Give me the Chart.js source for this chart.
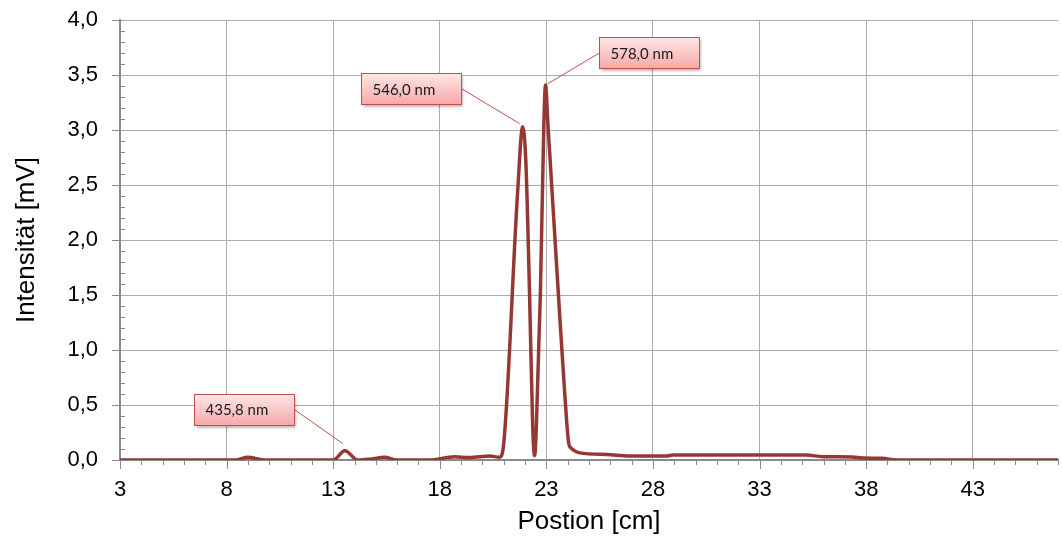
<!DOCTYPE html>
<html>
<head>
<meta charset="utf-8">
<script src="https://cdn.jsdelivr.net/npm/chart.js@4/dist/chart.umd.min.js"></script>
<style>
  html, body { margin: 0; padding: 0; background: #fff; }
  #wrap { width: 1062px; height: 537px; }
</style>
</head>
<body>
<div id="wrap"><canvas id="spectrum" width="1062" height="537"></canvas></div>
<script>
const positions = [3, 8.4, 9.0, 9.8, 13.0, 13.55, 14.15, 14.8, 15.4, 16.0, 17.5, 18.7, 19.4, 20.35, 20.8,
    21.0, 21.65, 21.89, 22.04, 22.21, 22.36, 22.45, 22.53, 22.72, 22.88, 22.96, 23.08, 23.37, 23.56,
    23.86, 24.05, 24.15, 24.57, 25.83, 26.9, 28.64, 28.93, 35.2, 35.96, 37.36, 37.83, 38.77, 39.43, 47];
const intensities = [0, 0, 0.025, 0, 0, 0.085, 0, 0.01, 0.025, 0, 0, 0.03, 0.022, 0.036, 0.025,
    0.15, 2.43, 3.03, 2.7, 1.52, 0.3, 0.04, 0.3, 1.52, 3.03, 3.41, 3.03, 2.12, 1.52,
    0.61, 0.15, 0.11, 0.065, 0.05, 0.036, 0.036, 0.045, 0.045, 0.03, 0.028, 0.018, 0.015, 0, 0];

const xTickValues = [3, 8, 13, 18, 23, 28, 33, 38, 43];
const peakPositions = [13.55, 21.89, 22.96];
const peakLabels = ["435,8 nm", "546,0 nm", "578,0 nm"];

// Beschriftungskästen: Versatz zum Peak in Pixeln
const calloutOffsets = [
    { box: [-101, -41], tip: [-2, -7] },
    { box: [-112, -38], tip: [-3, -3] },
    { box: [103, -32], tip: [2, -1] }
];

const points = positions.map((x, i) => ({ x: x, y: intensities[i] }));
const axisFont = "'Liberation Sans', Arial, sans-serif";

// kleine Teilstriche an den Achsen
const minorTicks = {
    id: "minorTicks",
    afterDraw(chart) {
        const { ctx, scales: { x, y }, chartArea } = chart;
        ctx.save();
        ctx.strokeStyle = "#8a8a8a";
        ctx.lineWidth = 1;
        for (let v = 3; v <= 47; v++) {
            const px = Math.round(x.getPixelForValue(v)) + 0.5;
            const len = xTickValues.includes(v) ? 9 : 5;
            ctx.beginPath();
            ctx.moveTo(px, chartArea.bottom);
            ctx.lineTo(px, chartArea.bottom + len);
            ctx.stroke();
        }
        for (let k = 0; k <= 40; k++) {
            const py = Math.round(y.getPixelForValue(k / 10)) + 0.5;
            ctx.beginPath();
            if (k % 5 === 0) {
                ctx.moveTo(chartArea.left - 8, py);
                ctx.lineTo(chartArea.left, py);
            } else {
                ctx.moveTo(chartArea.left, py);
                ctx.lineTo(chartArea.left + 5, py);
            }
            ctx.stroke();
        }
        ctx.restore();
    }
};

const callouts = {
    id: "callouts",
    afterDatasetsDraw(chart) {
        const { ctx, scales: { x, y } } = chart;
        const w = 100, h = 31;
        peakPositions.forEach((pos, n) => {
            const i = positions.indexOf(pos);
            const ax = x.getPixelForValue(positions[i]);
            const ay = y.getPixelForValue(intensities[i]);
            const off = calloutOffsets[n];
            const cx = ax + off.box[0], cy = ay + off.box[1];
            const left = Math.round(cx - w / 2) + 0.5, top = Math.round(cy - h / 2) + 0.5;
            const startX = off.box[0] < 0 ? left + w : left;

            ctx.save();
            ctx.strokeStyle = "#c0504d";
            ctx.lineWidth = 1;
            ctx.beginPath();
            ctx.moveTo(startX, cy);
            ctx.lineTo(ax + off.tip[0], ay + off.tip[1]);
            ctx.stroke();

            const grad = ctx.createLinearGradient(0, top, 0, top + h);
            grad.addColorStop(0, "#ffe6e6");
            grad.addColorStop(1, "#f5a9a8");
            ctx.shadowColor = "rgba(0,0,0,0.35)";
            ctx.shadowBlur = 3;
            ctx.shadowOffsetX = 1;
            ctx.shadowOffsetY = 2;
            ctx.fillStyle = grad;
            ctx.fillRect(left, top, w, h);
            ctx.shadowColor = "transparent";
            ctx.strokeStyle = "#c0504d";
            ctx.strokeRect(left, top, w, h);

            ctx.fillStyle = "#1a1a1a";
            ctx.font = "15px Lato, 'Open Sans', sans-serif";
            ctx.textBaseline = "middle";
            ctx.textAlign = "left";
            ctx.fillText(peakLabels[n], left + 11, cy + 1);
            ctx.restore();
        });
    }
};

new Chart(document.getElementById("spectrum"), {
    type: "line",
    data: {
        datasets: [{
            data: points,
            borderColor: "#953735",
            borderWidth: 3.5,
            pointRadius: 0,
            fill: false,
            cubicInterpolationMode: "monotone"
        }]
    },
    options: {
        responsive: false,
        animation: false,
        layout: { padding: { top: 20, right: 4, left: 0, bottom: 0 } },
        plugins: { legend: { display: false }, tooltip: { enabled: false } },
        scales: {
            x: {
                type: "linear",
                min: 3,
                max: 47,
                afterBuildTicks: (s) => { s.ticks = xTickValues.map(v => ({ value: v })); },
                afterFit: (s) => { s.height = 77; s.paddingLeft = 0; s.paddingRight = 0; },
                grid: { color: "#ababab", lineWidth: 1, drawTicks: false },
                border: { color: "#8a8a8a", width: 2 },
                ticks: {
                    autoSkip: false,
                    maxRotation: 0,
                    padding: 17,
                    color: "#000",
                    font: { family: axisFont, size: 22 }
                },
                title: {
                    display: true,
                    text: "Postion [cm]",
                    color: "#000",
                    padding: { top: 0, bottom: 0 },
                    font: { family: axisFont, size: 26 }
                }
            },
            y: {
                min: 0,
                max: 4,
                afterFit: (s) => { s.width = 120; s.paddingTop = 0; s.paddingBottom = 0; },
                grid: { color: "#ababab", lineWidth: 1, drawTicks: false },
                border: { color: "#8a8a8a", width: 2 },
                ticks: {
                    stepSize: 0.5,
                    padding: 22,
                    color: "#000",
                    font: { family: axisFont, size: 22 },
                    callback: (v) => v.toFixed(1).replace(".", ",")
                },
                title: {
                    display: true,
                    text: "Intensität [mV]",
                    color: "#000",
                    padding: { top: 11, bottom: 0 },
                    font: { family: axisFont, size: 26 }
                }
            }
        }
    },
    plugins: [minorTicks, callouts]
});
</script>
</body>
</html>
